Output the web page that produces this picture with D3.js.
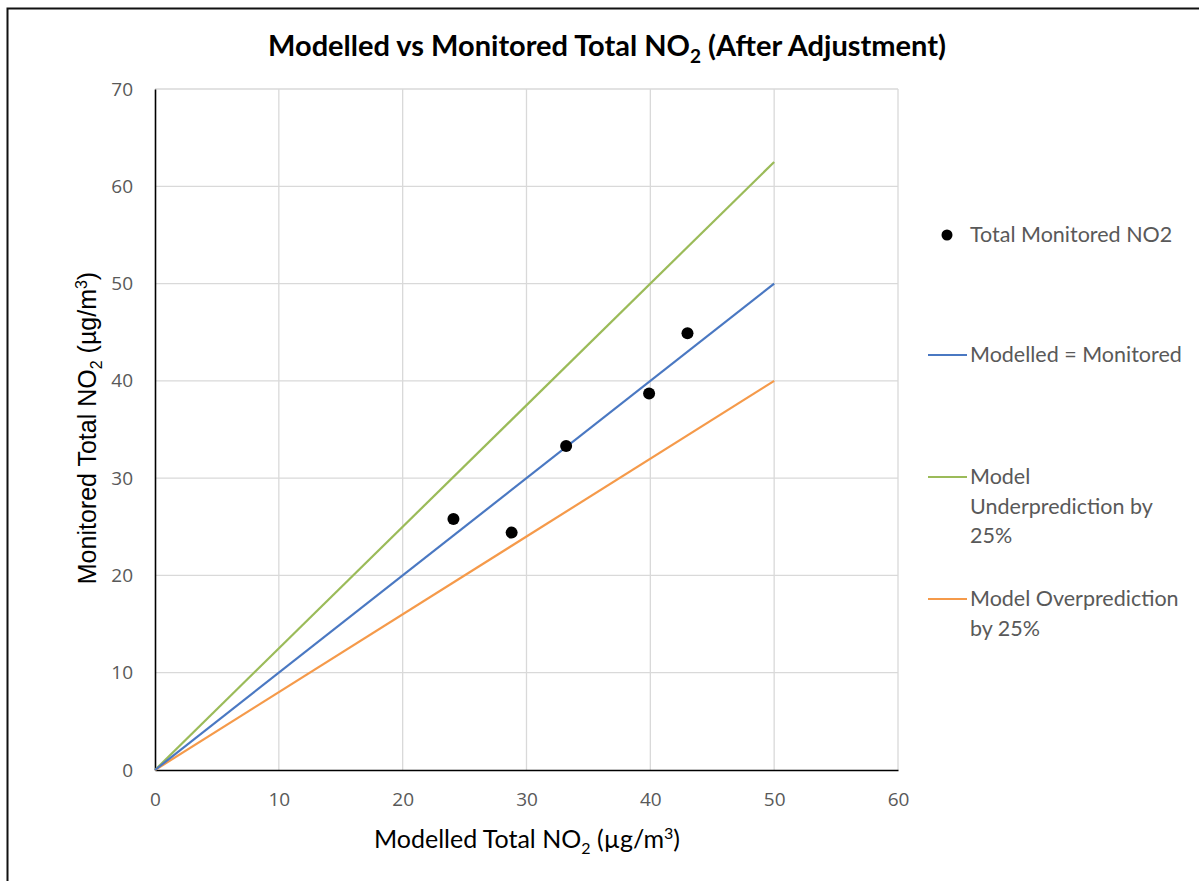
<!DOCTYPE html>
<html><head><meta charset="utf-8">
<script src="https://cdn.jsdelivr.net/npm/d3@7"></script>
<style>body{margin:0;background:#fff}svg{display:block}</style>
</head><body>
<script>
const modelled = [24.1, 28.8, 33.2, 39.9, 43.0];
const monitored = [25.8, 24.4, 33.3, 38.7, 44.9];
const lineX = [0, 50];
const ratioEqual = 1.0, ratioUnder = 1.25, ratioOver = 0.8;
const xTicks = [0, 10, 20, 30, 40, 50, 60];
const yTicks = [0, 10, 20, 30, 40, 50, 60, 70];
const legendLabels = [["Total Monitored NO2"], ["Modelled = Monitored"], ["Model", "Underprediction by", "25%"], ["Model Overprediction", "by 25%"]];
const colors = {equal: "#4a78c2", under: "#9bbb59", over: "#f59a4a"};

const W = 1199, H = 881;
const svg = d3.select("body").append("svg").attr("width", W).attr("height", H);
svg.append("rect").attr("x", 7.5).attr("y", 8.5).attr("width", W + 10).attr("height", H + 10)
  .attr("fill", "#fff").attr("stroke", "#111").attr("stroke-width", 2);

const x = d3.scaleLinear().domain([0, 60]).range([155, 898]);
const y = d3.scaleLinear().domain([0, 70]).range([770, 89]);

// grid
svg.append("g").selectAll("line").data(yTicks.slice(1)).join("line")
  .attr("x1", x(0)).attr("x2", x(60)).attr("y1", d => y(d)).attr("y2", d => y(d))
  .attr("stroke", "#d9d9d9").attr("stroke-width", 1.3);
svg.append("g").selectAll("line").data(xTicks.slice(1)).join("line")
  .attr("x1", d => x(d)).attr("x2", d => x(d)).attr("y1", y(0)).attr("y2", y(70))
  .attr("stroke", "#d9d9d9").attr("stroke-width", 1.3);

// axes
const xAxis = svg.append("g").attr("transform", `translate(0,${y(0)})`)
  .call(d3.axisBottom(x).tickValues(xTicks).tickSize(0).tickPadding(23));
const yAxis = svg.append("g").attr("transform", `translate(${x(0)},0)`)
  .call(d3.axisLeft(y).tickValues(yTicks).tickSize(0).tickPadding(22));
[xAxis, yAxis].forEach(g => {
  g.select(".domain").attr("stroke", "#000").attr("stroke-width", 1.6);
  g.selectAll("text").attr("fill", "#595959").style("font-family", "'Open Sans', sans-serif").style("font-size", "19px");
});

// lines
const line = d3.line().x(d => x(d[0])).y(d => y(d[1]));
[[ratioUnder, colors.under], [ratioOver, colors.over], [ratioEqual, colors.equal]].forEach(([r, c]) => {
  svg.append("path").datum(lineX.map(v => [v, v * r])).attr("d", line)
    .attr("fill", "none").attr("stroke", c).attr("stroke-width", 2.2);
});

// points
svg.append("g").selectAll("circle").data(modelled.map((m, i) => [m, monitored[i]])).join("circle")
  .attr("cx", d => x(d[0])).attr("cy", d => y(d[1])).attr("r", 6).attr("fill", "#000");

// title
const title = svg.append("text").attr("x", 607).attr("y", 56).attr("text-anchor", "middle")
  .style("font-family", "Lato, sans-serif").style("font-weight", "bold").style("font-size", "29px").attr("fill", "#000");
title.append("tspan").text("Modelled vs Monitored Total NO");
title.append("tspan").text("2").attr("font-size", "19px").attr("dy", 7);
title.append("tspan").text(" (After Adjustment)").attr("dy", -7);

// x label
const xl = svg.append("text").attr("x", 527).attr("y", 848).attr("text-anchor", "middle")
  .style("font-family", "Lato, sans-serif").style("font-size", "25px").attr("fill", "#000");
xl.append("tspan").text("Modelled Total NO");
xl.append("tspan").text("2").attr("font-size", "16px").attr("dy", 6);
xl.append("tspan").text(" (µg/m").attr("dy", -6);
xl.append("tspan").text("3").attr("font-size", "16px").attr("dy", -9);
xl.append("tspan").text(")").attr("dy", 9);

// y label
const yl = svg.append("text").attr("transform", "translate(96,428) rotate(-90)").attr("text-anchor", "middle")
  .style("font-family", "'Liberation Sans', Arial, sans-serif").style("font-size", "25px").attr("fill", "#000");
yl.append("tspan").text("Monitored Total NO");
yl.append("tspan").text("2").attr("font-size", "16px").attr("dy", 6);
yl.append("tspan").text(" (µg/m").attr("dy", -6);
yl.append("tspan").text("3").attr("font-size", "16px").attr("dy", -9);
yl.append("tspan").text(")").attr("dy", 9);

// legend
const legY = [235, 355, 477, 599];
const legColors = [null, colors.equal, colors.under, colors.over];
const leg = svg.append("g");
legendLabels.forEach((lines, i) => {
  if (i === 0) {
    leg.append("circle").attr("cx", 947).attr("cy", legY[i]).attr("r", 5.5).attr("fill", "#000");
  } else {
    leg.append("line").attr("x1", 928).attr("x2", 967).attr("y1", legY[i]).attr("y2", legY[i])
      .attr("stroke", legColors[i]).attr("stroke-width", 2);
  }
  const t = leg.append("text").attr("x", 970).attr("y", legY[i] + 7)
    .style("font-family", "Lato, sans-serif").style("font-size", "21.5px").attr("fill", "#595959");
  lines.forEach((s, j) => t.append("tspan").attr("x", 970).attr("dy", j === 0 ? 0 : 29.5).text(s));
});
</script>
</body></html>
